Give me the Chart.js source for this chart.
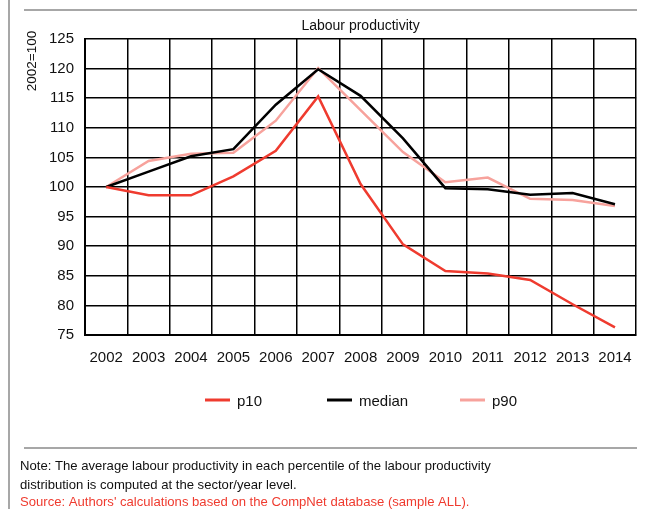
<!DOCTYPE html>
<html>
<head>
<meta charset="utf-8">
<script src="https://cdn.jsdelivr.net/npm/chart.js@4"></script>
<style>
  html, body { margin: 0; padding: 0; background: #fff; }
  #wrap { position: relative; width: 646px; height: 509px; }
</style>
</head>
<body>
<div id="wrap"><canvas id="chart" width="646" height="509"></canvas></div>
<script>
// Chart data
const years = ['2002', '2003', '2004', '2005', '2006', '2007', '2008',
               '2009', '2010', '2011', '2012', '2013', '2014'];
const p10 = [100, 98.6, 98.6, 101.8, 106.1, 115.3, 100.5, 90.3, 85.8, 85.4, 84.3, 80.2, 76.3];
const median = [100, 102.6, 105.2, 106.4, 113.9, 119.9, 115.4, 108.2, 99.8, 99.6, 98.7, 99.0, 97.1];
const p90 = [100, 104.4, 105.6, 105.8, 111.2, 120.1, 113.0, 105.9, 100.8, 101.6, 98.0, 97.8, 96.8];
const yTicks = [75, 80, 85, 90, 95, 100, 105, 110, 115, 120, 125];

const chartTitle = 'Labour productivity';
const yTitle = '2002=100';
const noteLines = [
    'Note: The average labour productivity in each percentile of the labour productivity',
    'distribution is computed at the sector/year level.'
];
const sourceLine = "Source: Authors' calculations based on the CompNet database (sample ALL).";

const NARROW = "'Liberation Sans Narrow', 'Arial Narrow', 'Liberation Sans', sans-serif";
const REGULAR = "'Liberation Sans', Arial, sans-serif";
const RED = '#ef3b2f';
const PINK = '#f7a29c';
const RULE = '#8a8a8a';

// Frame lines, title, legend and notes around the plot
const decorations = {
    id: 'decorations',
    afterDraw(chart) {
        const ctx = chart.ctx;
        const area = chart.chartArea;
        ctx.save();

        // grey rules
        ctx.strokeStyle = RULE;
        ctx.lineWidth = 1.5;
        ctx.beginPath();
        ctx.moveTo(9, 0); ctx.lineTo(9, 509);
        ctx.moveTo(24, 10); ctx.lineTo(637, 10);
        ctx.moveTo(24, 448); ctx.lineTo(637, 448);
        ctx.stroke();

        // title
        ctx.fillStyle = '#111';
        ctx.font = '14px ' + NARROW;
        ctx.textAlign = 'center';
        ctx.textBaseline = 'middle';
        ctx.fillText(chartTitle, (area.left + area.right) / 2, 26);

        // y axis title
        ctx.save();
        ctx.translate(32, 61);
        ctx.rotate(-Math.PI / 2);
        ctx.font = '13.5px ' + REGULAR;
        ctx.fillText(yTitle, 0, 0);
        ctx.restore();

        // legend
        const items = chart.data.datasets;
        const legendX = [205, 327, 460];
        ctx.font = '15px ' + NARROW;
        ctx.textAlign = 'left';
        items.forEach((ds, i) => {
            ctx.strokeStyle = ds.borderColor;
            ctx.lineWidth = 3;
            ctx.beginPath();
            ctx.moveTo(legendX[i], 400);
            ctx.lineTo(legendX[i] + 25, 400);
            ctx.stroke();
            ctx.fillStyle = '#111';
            ctx.fillText(ds.label, legendX[i] + 32, 402);
        });

        // notes
        ctx.font = '13.1px ' + REGULAR;
        ctx.fillStyle = '#111';
        ctx.fillText(noteLines[0], 20, 466);
        ctx.fillText(noteLines[1], 20, 485);
        ctx.fillStyle = RED;
        ctx.fillText(sourceLine, 20, 502);

        ctx.restore();
    }
};

new Chart(document.getElementById('chart'), {
    type: 'line',
    data: {
        labels: years,
        datasets: [
            { label: 'p10', data: p10, borderColor: RED },
            { label: 'median', data: median, borderColor: '#000' },
            { label: 'p90', data: p90, borderColor: PINK }
        ].map(ds => Object.assign(ds, {
            borderWidth: 2.5,
            pointRadius: 0,
            tension: 0,
            fill: false
        }))
    },
    options: {
        responsive: false,
        animation: false,
        layout: {
            padding: { left: 20, top: 39, right: 9, bottom: 144 }
        },
        plugins: {
            legend: { display: false },
            title: { display: false },
            tooltip: { enabled: false }
        },
        scales: {
            x: {
                offset: true,
                grid: { color: '#000', lineWidth: 1.5, offset: true, drawTicks: false },
                border: { color: '#000', width: 2 },
                ticks: {
                    color: '#111',
                    padding: 14,
                    maxRotation: 0,
                    autoSkip: false,
                    font: { family: NARROW, size: 15 }
                },
                afterFit(scale) { scale.height = 30; }
            },
            y: {
                min: yTicks[0],
                max: yTicks[yTicks.length - 1],
                afterBuildTicks(scale) {
                    scale.ticks = yTicks.map(v => ({ value: v }));
                },
                grid: { color: '#000', lineWidth: 1.5, drawTicks: false },
                border: { color: '#000', width: 2 },
                ticks: {
                    color: '#111',
                    padding: 11,
                    font: { family: NARROW, size: 15 }
                },
                afterFit(scale) { scale.width = 65; }
            }
        }
    },
    plugins: [decorations]
});
</script>
</body>
</html>
